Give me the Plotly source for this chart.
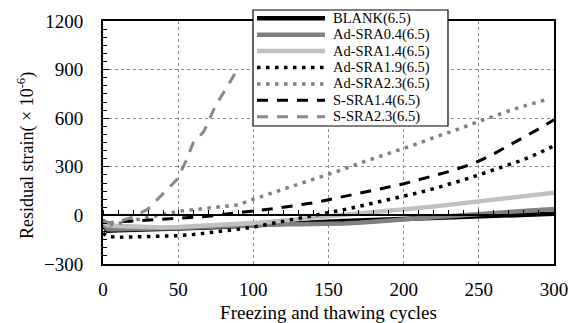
import plotly.graph_objects as go

# ---------------- data ----------------
x_main = [0, 3, 10, 20, 30, 40, 50, 60, 70, 80, 90, 100, 110, 120, 130, 140, 150, 160, 170, 180,
          190, 200, 210, 220, 230, 240, 250, 260, 270, 280, 290, 300]

blank = [-60, -95, -92, -90, -88, -86, -84, -80, -75, -70, -65, -60, -55, -50, -46, -42, -38, -35,
         -32, -29, -27, -24, -20, -16, -12, -9, -6, -3, 0, 3, 6, 10]
ad_sra04 = [-50, -85, -85, -84, -82, -80, -78, -74, -70, -66, -62, -60, -57, -55, -55, -55, -54,
            -50, -45, -40, -32, -25, -18, -12, -6, 0, 5, 12, 18, 25, 32, 40]
ad_sra14 = [-40, -60, -65, -70, -72, -74, -72, -68, -63, -57, -52, -47, -40, -32, -24, -15, -6, 2,
            10, 18, 26, 35, 45, 55, 65, 75, 86, 97, 108, 118, 128, 140]
ad_sra19 = [-110, -130, -135, -133, -132, -130, -125, -118, -108, -97, -85, -72, -55, -38, -20, -3,
            15, 35, 55, 75, 95, 117, 140, 165, 190, 220, 250, 280, 310, 345, 385, 430]
x_sra23 = [0, 3, 10, 20, 30, 40, 50, 60, 70, 80, 90, 100, 110, 120, 130, 140, 150, 160, 170, 180,
           190, 200, 210, 220, 230, 240, 250, 260, 270, 280, 290, 295]
ad_sra23 = [-30, -60, -50, -30, -10, 10, 25, 35, 45, 50, 65, 100, 130, 160, 190, 220, 250, 285, 320,
            350, 380, 410, 445, 480, 510, 545, 580, 615, 645, 675, 705, 715]
s_sra14 = [-30, -45, -40, -35, -30, -25, -20, -12, -5, 5, 15, 25, 38, 50, 62, 78, 97, 115, 135, 155,
           175, 195, 220, 245, 270, 300, 335, 380, 430, 480, 535, 590]
x_ssra23 = [0, 3, 10, 20, 30, 36, 40, 49, 55, 60, 67, 75, 83, 90]
s_sra23 = [-30, -45, -40, -10, 40, 97, 140, 220, 330, 448, 517, 680, 800, 910]

names = ["BLANK(6.5)", "Ad-SRA0.4(6.5)", "Ad-SRA1.4(6.5)", "Ad-SRA1.9(6.5)",
         "Ad-SRA2.3(6.5)", "S-SRA1.4(6.5)", "S-SRA2.3(6.5)"]
xs = [x_main, x_main, x_main, x_main, x_sra23, x_main, x_ssra23]
ys = [blank, ad_sra04, ad_sra14, ad_sra19, ad_sra23, s_sra14, s_sra23]

x_ticks = [0, 50, 100, 150, 200, 250, 300]
y_ticks = [-300, 0, 300, 600, 900, 1200]
x_title = "Freezing and thawing cycles"
y_title = "Residual strain( × 10<sup>-6</sup>)"

# ---------------- styles ----------------
colors = ["#000000", "#808080", "#c0c0c0", "#000000", "#808080", "#000000", "#888888"]
widths = [4.5, 4.5, 4.5, 3.5, 3.5, 3, 3]
dashes = ["solid", "solid", "solid", "3.5px,5.5px", "3.5px,5.5px", "11px,9px", "11px,9px"]

FONT = "Liberation Serif"

fig = go.Figure()
for n, xv, yv, c, w, d in zip(names, xs, ys, colors, widths, dashes):
    fig.add_trace(go.Scatter(x=xv, y=yv, mode="lines", name=n,
                             line=dict(color=c, width=w, dash=d), showlegend=False))

# ---------------- layout ----------------
L, R, T, B = 103, 17, 21, 59
W, H = 571, 323
pw, ph = W - L - R, H - T - B


def px2x(px):
    return (px - L) / pw


def py2y(py):
    return (H - B - py) / ph


fig.update_layout(
    width=W, height=H,
    margin=dict(l=L, r=R, t=T, b=B, autoexpand=False),
    paper_bgcolor="white", plot_bgcolor="white",
    font=dict(family=FONT, color="black", size=19),
    showlegend=False,
    xaxis=dict(range=[0, 300], tickvals=x_ticks, ticks="", showline=True, mirror=True,
               linecolor="black", linewidth=2, showgrid=True, gridcolor="#8c8c8c",
               griddash="3px,3px", gridwidth=1, zeroline=False, automargin=False,
               tickfont=dict(size=19, family=FONT), ticklabelstandoff=7,
               title=dict(text=x_title, font=dict(size=19, family=FONT), standoff=12)),
    yaxis=dict(range=[-300, 1200], tickvals=y_ticks, ticks="inside", ticklen=6, tickwidth=1,
               tickcolor="black", showline=True, mirror=True, linecolor="black", linewidth=2,
               showgrid=True, gridcolor="#8c8c8c", griddash="3px,3px", gridwidth=1,
               zeroline=False, automargin=False,
               minor=dict(dtick=50, ticks="inside", ticklen=4, tickcolor="black",
                          showgrid=False),
               tickfont=dict(size=19, family=FONT), ticklabelstandoff=14),
    xaxis2=dict(range=[0, 300], overlaying="x", anchor="free", position=0.2, side="top",
                showline=True, linecolor="black", linewidth=1.5, ticks="outside", ticklen=5,
                tickcolor="black", tickvals=list(range(0, 301, 10)), showticklabels=False,
                showgrid=False, zeroline=False, automargin=False),
)
# invisible helper trace so the zero-line axis (x2) renders
fig.add_trace(go.Scatter(x=[0], y=[0], xaxis="x2", mode="markers", marker=dict(opacity=0),
                         showlegend=False, hoverinfo="skip"))

# ---------------- legend (manual, compact like the reference) ----------------
lx0, lx1, ly0, ly1 = 253, 448, 10, 126
shapes = [dict(type="rect", xref="paper", yref="paper", x0=px2x(lx0), x1=px2x(lx1),
               y0=py2y(ly1), y1=py2y(ly0), line=dict(color="black", width=1.2),
               fillcolor="white", layer="above")]
annotations = [dict(xref="paper", yref="paper", x=px2x(26), y=py2y(156), text=y_title,
                    textangle=-90, showarrow=False, xanchor="center", yanchor="middle",
                    font=dict(size=18, family=FONT, color="black"))]
row0, step = 18.3, 16.4
for i, (n, c, w, d) in enumerate(zip(names, colors, widths, dashes)):
    yy = py2y(row0 + i * step)
    shapes.append(dict(type="line", xref="paper", yref="paper", x0=px2x(257), x1=px2x(325),
                       y0=yy, y1=yy, line=dict(color=c, width=w, dash=d), layer="above"))
    annotations.append(dict(xref="paper", yref="paper", x=px2x(331), y=yy, text=n,
                            showarrow=False, xanchor="left", yanchor="middle",
                            font=dict(size=14.5, family=FONT, color="black")))
fig.update_layout(shapes=shapes, annotations=annotations)

fig.write_html("out.html")
